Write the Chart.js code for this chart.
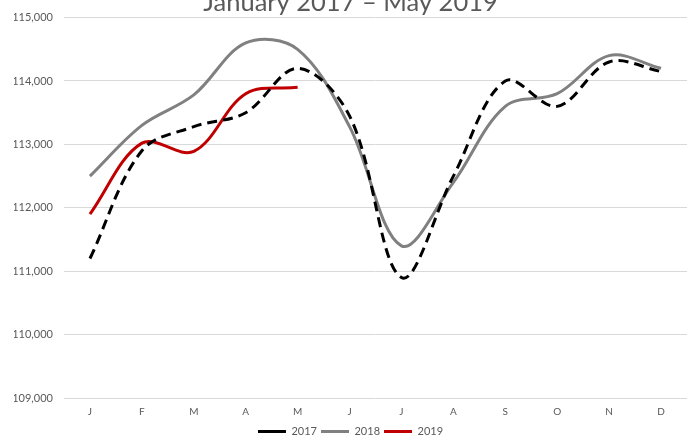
<!DOCTYPE html>
<html>
<head>
<meta charset="utf-8">
<script src="https://cdn.jsdelivr.net/npm/chart.js@4/dist/chart.umd.min.js"></script>
<style>
html,body{margin:0;padding:0;background:#fff;}
#wrap{width:692px;height:437px;position:relative;}
</style>
</head>
<body>
<div id="wrap"><canvas id="c" width="692" height="437"></canvas></div>
<script>
const categories = ['J','F','M','A','M','J','J','A','S','O','N','D'];
const series2017 = [111200, 112900, 113280, 113500, 114200, 113450, 110900, 112500, 114000, 113600, 114300, 114150];
const series2018 = [112500, 113300, 113780, 114600, 114500, 113280, 111400, 112400, 113600, 113800, 114400, 114200];
const series2019 = [111900, 113020, 112890, 113800, 113900];
const yTicks = [109000, 110000, 111000, 112000, 113000, 114000, 115000];
const titleText = 'January 2017 \u2013 May 2019';

const txt = '#595959';
const fam = 'Lato, "Open Sans", sans-serif';

new Chart(document.getElementById('c'), {
  type: 'line',
  data: {
    labels: categories,
    datasets: [
      {label: '2017', data: series2017, borderColor: '#000000', backgroundColor: '#000000', borderWidth: 3, borderDash: [10, 6], pointRadius: 0, tension: 0.35, fill: false},
      {label: '2018', data: series2018, borderColor: '#808080', backgroundColor: '#808080', borderWidth: 3, pointRadius: 0, tension: 0.35, fill: false},
      {label: '2019', data: series2019, borderColor: '#c00000', backgroundColor: '#c00000', borderWidth: 3, pointRadius: 0, tension: 0.35, fill: false}
    ]
  },
  options: {
    responsive: false,
    animation: false,
    layout: {padding: {left: 14, right: 5, top: 0, bottom: -10}},
    plugins: {
      title: {display: true, text: titleText, color: txt, font: {family: fam, size: 25.5, weight: 'normal'}, padding: {top: -14, bottom: 0}},
      legend: {position: 'bottom', labels: {color: txt, font: {family: fam, size: 11}, usePointStyle: true, pointStyle: 'line', pointStyleWidth: 28, boxHeight: 3, padding: 4}},
      tooltip: {enabled: false}
    },
    scales: {
      x: {
        offset: true,
        afterFit: (s) => { s.height = 24; },
        grid: {display: false, drawTicks: false, offset: true},
        border: {display: false},
        ticks: {color: txt, font: {family: fam, size: 10}, padding: 8, maxRotation: 0}
      },
      y: {
        min: 109000, max: 115000,
        afterBuildTicks: (s) => { s.ticks = yTicks.map(v => ({value: v})); },
        afterFit: (s) => { s.width = 50; },
        grid: {color: '#d9d9d9', lineWidth: 1, drawTicks: false},
        border: {display: false},
        ticks: {color: txt, font: {family: fam, size: 11}, padding: 11, callback: (v) => v.toLocaleString('en-US')}
      }
    }
  }
});
</script>
</body>
</html>
